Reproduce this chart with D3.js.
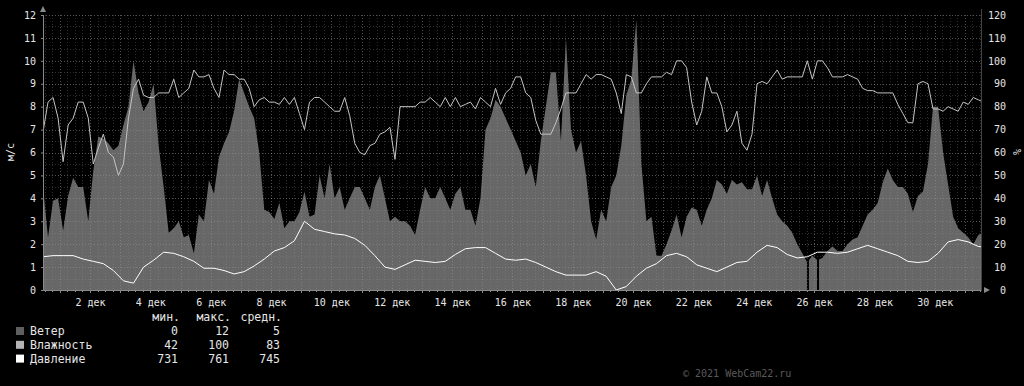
<!DOCTYPE html>
<html>
<head>
<meta charset="utf-8">
<script src="https://cdn.jsdelivr.net/npm/d3@7"></script>
<style>
  body { margin: 0; background: #000; }
  text { font-family: "DejaVu Sans Mono", monospace; }
</style>
</head>
<body>
<div id="chart"></div>
<script>
// wind speed, m/s, one value every 4 hours
var windSpeed = [4.5, 2.3, 3.9, 4.0, 2.6, 4.1, 4.9, 4.5, 4.5, 3.0, 5.2, 6.7, 6.6, 6.4, 6.1, 6.3, 7.2, 8.0, 10.0, 8.6,
  7.8, 8.2, 9.0, 6.3, 4.5, 2.5, 2.7, 3.0, 2.3, 2.4, 1.6, 3.3, 3.0, 4.8, 4.2, 5.8, 6.4, 6.9, 7.8, 9.2,
  8.6, 8.0, 7.5, 6.0, 3.5, 3.4, 3.1, 3.8, 2.7, 3.0, 3.0, 3.4, 4.3, 3.2, 3.3, 5.0, 4.0, 5.5, 4.0, 4.5,
  3.5, 4.0, 4.5, 4.5, 4.0, 3.5, 4.5, 5.0, 4.0, 3.0, 3.2, 3.0, 3.0, 2.8, 2.4, 3.5, 4.5, 4.0, 4.0, 4.5,
  4.0, 3.5, 4.2, 4.5, 3.5, 3.5, 2.8, 4.0, 7.0, 7.5, 8.3, 8.0, 7.5, 7.0, 6.5, 6.0, 5.0, 5.5, 4.5, 6.5,
  8.0, 9.5, 9.5, 6.5, 11.0, 7.0, 6.0, 6.5, 5.0, 3.0, 2.2, 3.5, 3.0, 4.5, 5.0, 6.3, 8.5, 9.2, 11.8, 5.5,
  3.0, 3.2, 1.5, 1.5, 2.0, 2.6, 3.3, 2.3, 3.2, 3.6, 3.5, 2.8, 3.5, 4.0, 4.8, 4.6, 4.2, 4.8, 4.6, 4.7,
  4.4, 4.4, 5.0, 4.1, 4.8, 4.0, 3.3, 3.0, 2.8, 2.5, 2.0, 1.6, 1.2, 1.5, 1.3, 1.4, 1.7, 1.9, 1.7, 1.7,
  2.0, 2.2, 2.3, 2.8, 3.3, 3.5, 3.8, 4.7, 5.3, 4.8, 4.5, 4.5, 4.2, 3.4, 4.1, 4.3, 5.5, 8.0, 8.0, 6.0,
  4.6, 3.2, 2.7, 2.5, 2.3, 2.0, 2.4, 2.5];

// relative humidity, %, one value every 4 hours
var humidity = [69, 82, 84, 75, 56, 72, 75, 82, 82, 75, 55, 62, 68, 60, 58, 50, 55, 75, 88, 92,
  85, 84, 84, 86, 86, 86, 92, 84, 86, 88, 96, 93, 93, 94, 88, 84, 96, 94, 94, 92,
  92, 88, 80, 83, 84, 82, 82, 81, 84, 81, 84, 77, 70, 82, 84, 84, 82, 80, 78, 78,
  84, 76, 64, 60, 59, 63, 64, 68, 69, 71, 57, 80, 80, 80, 80, 82, 82, 84, 82, 80,
  84, 80, 84, 80, 81, 82, 79, 84, 82, 80, 88, 81, 86, 88, 93, 93, 86, 84, 74, 68,
  68, 68, 73, 79, 86, 86, 86, 90, 94, 92, 94, 94, 93, 92, 86, 77, 94, 93, 86, 86,
  90, 93, 93, 93, 95, 94, 100, 100, 97, 82, 72, 78, 93, 86, 86, 80, 69, 72, 78, 64,
  61, 68, 90, 91, 90, 93, 96, 92, 93, 93, 93, 93, 100, 92, 100, 100, 97, 93, 93, 93,
  94, 93, 92, 88, 87, 87, 86, 86, 86, 86, 81, 77, 73, 73, 90, 91, 90, 79, 79, 78,
  80, 79, 78, 82, 81, 84, 83, 82];

// pressure, mm Hg, one value every 8 hours
var pressure = [745.5, 746, 746, 746, 744.5, 743.5, 742.5, 739.5, 735, 734, 741, 744, 747.5, 747, 745.5, 743.5,
  740.5, 740.5, 739.5, 738, 739, 741.5, 744.5, 748, 749.5, 752.5, 761, 757.5, 756.5, 755.5, 755, 753.5,
  750.5, 746, 741, 740, 742, 744, 743.5, 743, 743.5, 746.5, 749, 749.5, 749.5, 747, 744.5, 744,
  744.5, 743, 741, 739, 737.5, 737.5, 737.5, 739, 737, 731, 732.5, 737, 740.5, 742.5, 746, 747,
  745.5, 742, 740.5, 739, 741, 743, 743.5, 747.5, 750.5, 749.5, 746.5, 745, 745.5, 747.5, 747.5, 747,
  747.5, 749, 750.5, 749, 747.5, 746, 743.5, 743, 743.5, 747, 752, 753, 752, 750, 749.5];

// short gaps in the wind record (26 дек), hours from the start
var windGaps = [608.5, 616.5];

var dayTicks = [2, 4, 6, 8, 10, 12, 14, 16, 18, 20, 22, 24, 26, 28, 30];

var legendNames = ["Ветер", "Влажность", "Давление"];
var legendColors = ["#5f5f5f", "#b4b4b4", "#ffffff"];
var legendMin = [0, 42, 731];
var legendMax = [12, 100, 761];
var legendAvg = [5, 83, 745];

var svgWidth = 1024;
var svgHeight = 386;
var margin = { top: 15, left: 43 };
var width = 938;
var height = 275;

var startTime = new Date(2021, 10, 30, 10, 37);
var endTime = new Date(startTime.getTime() + 31.09 * 864e5);
var hour = 36e5;

var svg = d3.select("#chart")
  .append("svg")
  .attr("width", svgWidth)
  .attr("height", svgHeight)
  .style("background", "#000");

var chartGroup = svg.append("g")
  .attr("transform", `translate(${margin.left}, ${margin.top})`);

var xScale = d3.scaleTime().domain([startTime, endTime]).range([0, width]);
var yScale = d3.scaleLinear().domain([0, 12]).range([height, 0]);
var yRight = d3.scaleLinear().domain([0, 120]).range([height, 0]);

var t = (i, step) => new Date(startTime.getTime() + i * step * hour);

chartGroup.append("clipPath").attr("id", "clip")
  .append("rect").attr("width", width).attr("height", height);

var plot = chartGroup.append("g").attr("clip-path", "url(#clip)");

// wind area
var windArea = d3.area()
  .x((d, i) => xScale(t(i, 4)))
  .y0(height)
  .y1(d => yScale(d));

plot.append("path")
  .datum(windSpeed)
  .attr("d", windArea)
  .attr("fill", "#676767");

plot.selectAll(".gap")
  .data(windGaps)
  .enter()
  .append("rect")
  .attr("x", d => xScale(t(d, 1)) - 1)
  .attr("y", 0)
  .attr("width", 2)
  .attr("height", height)
  .attr("fill", "#000");

// grid on top of the area
var gridGroup = plot.append("g");
var minorX = d3.timeHour.every(6).range(startTime, endTime);
gridGroup.selectAll(".vx")
  .data(minorX)
  .enter()
  .append("line")
  .attr("x1", d => Math.round(xScale(d)) + 0.5)
  .attr("x2", d => Math.round(xScale(d)) + 0.5)
  .attr("y1", 0)
  .attr("y2", height)
  .attr("stroke", d => d.getHours() == 0 ? "rgba(150,150,150,0.55)" : "rgba(150,150,150,0.3)")
  .attr("stroke-dasharray", "1,2");

gridGroup.selectAll(".hy")
  .data(d3.range(0.5, 12.01, 0.5))
  .enter()
  .append("line")
  .attr("x1", 0)
  .attr("x2", width)
  .attr("y1", d => Math.round(yScale(d)) + 0.5)
  .attr("y2", d => Math.round(yScale(d)) + 0.5)
  .attr("stroke", d => d % 1 == 0 ? "rgba(150,150,150,0.55)" : "rgba(150,150,150,0.3)")
  .attr("stroke-dasharray", "1,2");

// humidity and pressure lines
var humidityLine = d3.line()
  .x((d, i) => xScale(t(i, 4)))
  .y(d => yRight(d));

plot.append("path")
  .datum(humidity)
  .attr("d", humidityLine)
  .attr("fill", "none")
  .attr("stroke", "#c4c4c4")
  .attr("stroke-width", 1);

var pressureLine = d3.line()
  .x((d, i) => xScale(t(i, 8)))
  .y(d => yScale((d - 731) / 10));

plot.append("path")
  .datum(pressure)
  .attr("d", pressureLine)
  .attr("fill", "none")
  .attr("stroke", "#ffffff")
  .attr("stroke-width", 1);

// axes
var axisColor = "#8a8a8a";
var bottomAxis = d3.axisBottom(xScale)
  .tickValues(dayTicks.map(d => new Date(2021, 11, d)))
  .tickSize(0)
  .tickPadding(9)
  .tickFormat(d => d.getDate() + " дек");

var xAxis = chartGroup.append("g")
  .attr("transform", `translate(0, ${height})`)
  .call(bottomAxis);

var leftAxis = d3.axisLeft(yScale).tickValues(d3.range(0, 13)).tickSize(2).tickPadding(5);
var yAxis = chartGroup.append("g").call(leftAxis);

var rightAxis = d3.axisRight(yRight).tickValues(d3.range(0, 121, 10)).tickSize(0).tickPadding(25);
var yAxisR = chartGroup.append("g")
  .attr("transform", `translate(${width}, 0)`)
  .call(rightAxis);

[xAxis, yAxis, yAxisR].forEach(function(a) {
  a.select(".domain").attr("stroke", axisColor);
  a.selectAll(".tick line").attr("stroke", axisColor);
  a.selectAll("text")
    .attr("fill", "#e6e6e6")
    .style("font-family", "DejaVu Sans Mono")
    .style("font-size", "10px");
});
yAxisR.selectAll("text").attr("text-anchor", "end").attr("x", 25);
yAxisR.select(".domain").attr("stroke", "none");
chartGroup.append("line")
  .attr("x1", width + 0.5).attr("x2", width + 0.5)
  .attr("y1", -6).attr("y2", height)
  .attr("stroke", "#444");

// small ticks under the time axis
chartGroup.selectAll(".xt")
  .data(minorX)
  .enter()
  .append("line")
  .attr("x1", d => Math.round(xScale(d)) + 0.5)
  .attr("x2", d => Math.round(xScale(d)) + 0.5)
  .attr("y1", height)
  .attr("y2", d => height + (d.getHours() == 0 ? 3 : 2))
  .attr("stroke", axisColor);

// arrows at axis ends
chartGroup.append("path")
  .attr("d", "M-3,-3 L3,-3 L0,-9 Z")
  .attr("fill", "#8a8a8a");
chartGroup.append("path")
  .attr("d", `M${width + 3},${height - 3} L${width + 3},${height + 3} L${width + 9},${height} Z`)
  .attr("fill", "#8a8a8a");

// axis titles
svg.append("text")
  .attr("transform", "translate(14, 152) rotate(-90)")
  .attr("text-anchor", "middle")
  .attr("fill", "#e6e6e6")
  .style("font-size", "10px")
  .text("м/с");

svg.append("text")
  .attr("transform", "translate(1021, 152) rotate(-90)")
  .attr("text-anchor", "middle")
  .attr("fill", "#e6e6e6")
  .style("font-size", "10px")
  .text("%");

// legend
var legend = svg.append("g").style("font-size", "11.5px").attr("fill", "#e6e6e6");
var colX = [178, 229, 280];
["мин.", "макс.", "средн."].forEach(function(h, i) {
  legend.append("text").attr("x", colX[i] + 2).attr("y", 321).attr("text-anchor", "end").text(h);
});

var rows = legend.selectAll(".row")
  .data(legendNames)
  .enter()
  .append("g")
  .attr("transform", (d, i) => `translate(0, ${335 + i * 13.8})`);

rows.append("rect")
  .attr("x", 16).attr("y", -8)
  .attr("width", 8).attr("height", 8)
  .attr("fill", (d, i) => legendColors[i]);

rows.append("text").attr("x", 30).text(d => d);
rows.append("text").attr("x", colX[0]).attr("text-anchor", "end").text((d, i) => legendMin[i]);
rows.append("text").attr("x", colX[1]).attr("text-anchor", "end").text((d, i) => legendMax[i]);
rows.append("text").attr("x", colX[2]).attr("text-anchor", "end").text((d, i) => legendAvg[i]);

svg.append("text")
  .attr("x", 683).attr("y", 377)
  .attr("fill", "#5a5a5a")
  .style("font-size", "10px")
  .text("© 2021 WebCam22.ru");
</script>
</body>
</html>
